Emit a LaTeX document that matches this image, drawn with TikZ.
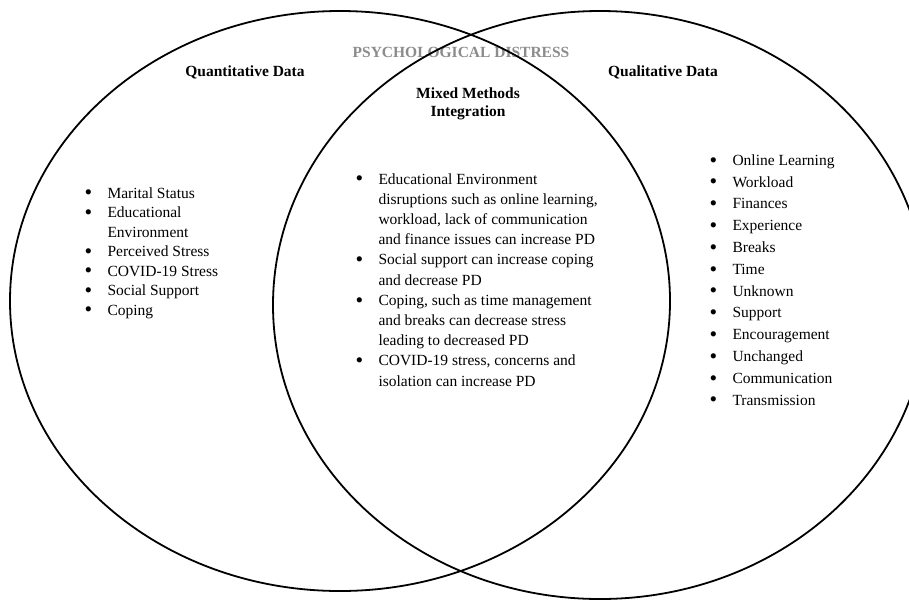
\documentclass[tikz,border=0pt]{standalone}
\usepackage{fontspec}
\setmainfont{Liberation Serif}
\definecolor{pdgray}{HTML}{8C8C8C}
\newcommand\vbul{\makebox[22pt][l]{\hspace*{-0.8pt}\raisebox{-0.12em}{\scalebox{1.4}{\textbullet}}}}
\newcommand\vind{\hspace*{22pt}}
\begin{document}
\begin{tikzpicture}[x=1pt,y=-1pt,
  ring/.style={draw=black, line width=1.8pt},
  heading/.style={font=\fontsize{15.5}{18}\selectfont\bfseries, inner sep=0pt, align=center},
  listtext/.style={font=\fontsize{15.5}{#1}\selectfont, align=left, inner sep=0pt, anchor=base west}]
\useasboundingbox (0,0) rectangle (909,600);
\clip (0,0) rectangle (909,600);
\fill[white] (0,0) rectangle (909,600);

\node[heading, text=pdgray] (pd) at (461,52) {PSYCHOLOGICAL DISTRESS};

\draw[ring] (340,301) ellipse [x radius=330pt, y radius=290pt];
\draw[ring] (600,305) ellipse [x radius=327pt, y radius=294pt];

\node[heading] (quant) at (245,72) {Quantitative Data};
\node[heading] (qual) at (663,72) {Qualitative Data};
\node[heading] (mixed) at (468,104) {Mixed Methods\\Integration};

% anchor base = baseline of the last line
\node[listtext=19.5] (qlist) at (85.3,315) {\vbul Marital Status\\
\vbul Educational\\
\vind Environment\\
\vbul Perceived Stress\\
\vbul COVID-19 Stress\\
\vbul Social Support\\
\vbul Coping};

\node[listtext=20.2] (mlist) at (356.3,386) {\vbul Educational Environment\\
\vind disruptions such as online learning,\\
\vind workload, lack of communication\\
\vind and finance issues can increase PD\\
\vbul Social support can increase coping\\
\vind and decrease PD\\
\vbul Coping, such as time management\\
\vind and breaks can decrease stress\\
\vind leading to decreased PD\\
\vbul COVID-19 stress, concerns and\\
\vind isolation can increase PD};

\node[listtext=21.8] (rlist) at (710.3,405) {\vbul Online Learning\\
\vbul Workload\\
\vbul Finances\\
\vbul Experience\\
\vbul Breaks\\
\vbul Time\\
\vbul Unknown\\
\vbul Support\\
\vbul Encouragement\\
\vbul Unchanged\\
\vbul Communication\\
\vbul Transmission};
\end{tikzpicture}
\end{document}
